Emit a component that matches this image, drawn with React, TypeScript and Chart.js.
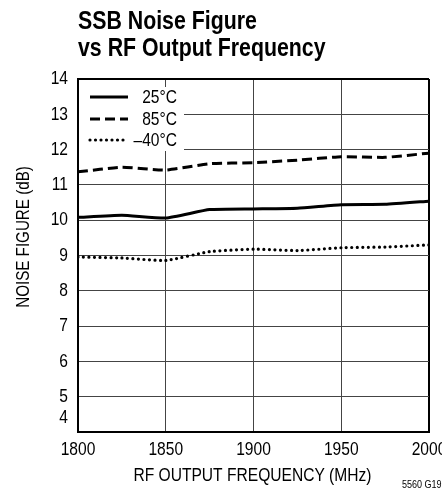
import React, { useEffect, useRef } from "react";
import { Chart, registerables } from "chart.js";

Chart.register(...registerables);

const freqs = [1800, 1825, 1850, 1875, 1900, 1925, 1950, 1975, 2000];
const nf25 = [10.08, 10.14, 10.06, 10.3, 10.32, 10.34, 10.44, 10.45, 10.54];
const nf85 = [11.37, 11.5, 11.42, 11.6, 11.63, 11.7, 11.8, 11.78, 11.9];
const nfM40 = [8.96, 8.93, 8.86, 9.11, 9.18, 9.14, 9.22, 9.24, 9.3];
const legendLabels = ["25°C", "85°C", "–40°C"];
const xTicks = [1800, 1850, 1900, 1950, 2000];
const yTicks = [4, 5, 6, 7, 8, 9, 10, 11, 12, 13, 14];
const titleLines = ["SSB Noise Figure", "vs RF Output Frequency"];
const xTitle = "RF OUTPUT FREQUENCY (MHz)";
const yTitle = "NOISE FIGURE (dB)";
const footnote = "5560 G19";

const dashes: number[][] = [[], [10, 5], [0, 5.5]];

function hasNarrow(ctx: CanvasRenderingContext2D) {
  ctx.font = '20px "Liberation Sans Narrow", monospace';
  const a = ctx.measureText("abcdefghijklm").width;
  ctx.font = "20px monospace";
  const b = ctx.measureText("abcdefghijklm").width;
  return Math.abs(a - b) > 0.5;
}

function drawText(
  ctx: CanvasRenderingContext2D,
  text: string,
  x: number,
  y: number,
  size: number,
  bold: boolean,
  align: CanvasTextAlign,
  narrow: boolean,
  rotate = 0
) {
  ctx.save();
  ctx.translate(x, y);
  if (rotate) ctx.rotate(rotate);
  ctx.fillStyle = "#000";
  ctx.textAlign = align;
  ctx.textBaseline = "middle";
  if (narrow) {
    ctx.font = `${bold ? "bold " : ""}${size}px "Liberation Sans Narrow"`;
  } else {
    ctx.scale(0.82, 1);
    ctx.font = `${bold ? "bold " : ""}${size}px "Liberation Sans", Arial, sans-serif`;
  }
  ctx.fillText(text, 0, 0);
  ctx.restore();
}

const textPlugin = {
  id: "customText",
  afterDraw(chart: any) {
    const ctx: CanvasRenderingContext2D = chart.ctx;
    const narrow = hasNarrow(ctx);
    const xs = chart.scales.x;
    const ys = chart.scales.y;
    const area = chart.chartArea;

    // title
    drawText(ctx, titleLines[0], area.left, 22, 26, true, "left", narrow);
    drawText(ctx, titleLines[1], area.left, 49, 26, true, "left", narrow);

    // y ticks
    yTicks.forEach((v) => {
      let py = ys.getPixelForValue(v);
      if (v === yTicks[0]) py -= 14;
      drawText(ctx, String(v), area.left - 10, py, 19, false, "right", narrow);
    });
    // x ticks
    xTicks.forEach((v) => {
      const px = xs.getPixelForValue(v);
      drawText(ctx, String(v), px, area.bottom + 18, 19, false, "center", narrow);
    });
    // axis titles
    drawText(ctx, xTitle, (area.left + area.right) / 2 - 1, area.bottom + 44, 19, false, "center", narrow);
    drawText(ctx, yTitle, 24, 237, 18.5, false, "center", narrow, -Math.PI / 2);
    drawText(ctx, footnote, chart.width - 40, chart.height - 6, 11, false, "left", narrow);

    // legend
    ctx.save();
    ctx.fillStyle = "#fff";
    ctx.fillRect(area.left + 1, area.top + 8, 105, 64);
    const rows = [area.top + 18, area.top + 40, area.top + 61];
    rows.forEach((ry, i) => {
      ctx.save();
      ctx.strokeStyle = "#000";
      ctx.lineWidth = i === 2 ? 3.2 : 3;
      ctx.lineCap = i === 2 ? "round" : "butt";
      ctx.setLineDash(dashes[i]);
      ctx.beginPath();
      ctx.moveTo(area.left + 12, ry);
      ctx.lineTo(area.left + 50, ry);
      ctx.stroke();
      ctx.restore();
      drawText(ctx, legendLabels[i], area.left + 99, ry + 1, 19, false, "right", narrow);
    });
    ctx.restore();
  },
};

export default function App() {
  const ref = useRef<HTMLCanvasElement | null>(null);
  useEffect(() => {
    document.body.style.margin = "0";
    const canvas = ref.current!;
    const series = [nf25, nf85, nfM40];
    const chart = new Chart(canvas, {
      type: "line",
      data: {
        datasets: series.map((s, i) => ({
          label: legendLabels[i],
          data: freqs.map((f, j) => ({ x: f, y: s[j] })),
          borderColor: "#000",
          borderWidth: i === 2 ? 3.2 : 3,
          borderDash: dashes[i],
          borderCapStyle: i === 2 ? "round" : "butt",
          pointRadius: 0,
          tension: 0.15,
          fill: false,
        })),
      },
      options: {
        responsive: false,
        animation: false,
        layout: { padding: { left: 78, top: 79, right: 13, bottom: 59 } },
        plugins: { legend: { display: false }, title: { display: false }, tooltip: { enabled: false } },
        scales: {
          x: {
            type: "linear",
            min: 1800,
            max: 2000,
            ticks: { display: false, stepSize: 50 },
            grid: {
              drawTicks: false,
              color: (c: any) => (c.tick && (c.tick.value === 1800 || c.tick.value === 2000) ? "#000" : "#444"),
              lineWidth: (c: any) => (c.tick && (c.tick.value === 1800 || c.tick.value === 2000) ? 2 : 1),
            },
            border: { display: true, color: "#000", width: 2 },
          },
          y: {
            type: "linear",
            min: 4,
            max: 14,
            ticks: { display: false, stepSize: 1 },
            grid: {
              drawTicks: false,
              color: (c: any) => (c.tick && (c.tick.value === 4 || c.tick.value === 14) ? "#000" : "#444"),
              lineWidth: (c: any) => (c.tick && (c.tick.value === 4 || c.tick.value === 14) ? 2 : 1),
            },
            border: { display: true, color: "#000", width: 2 },
          },
        },
      },
      plugins: [textPlugin],
    } as any);
    return () => chart.destroy();
  }, []);
  return (
    <div style={{ width: 442, height: 491, background: "#fff" }}>
      <canvas ref={ref} width={442} height={491} style={{ display: "block" }} />
    </div>
  );
}
